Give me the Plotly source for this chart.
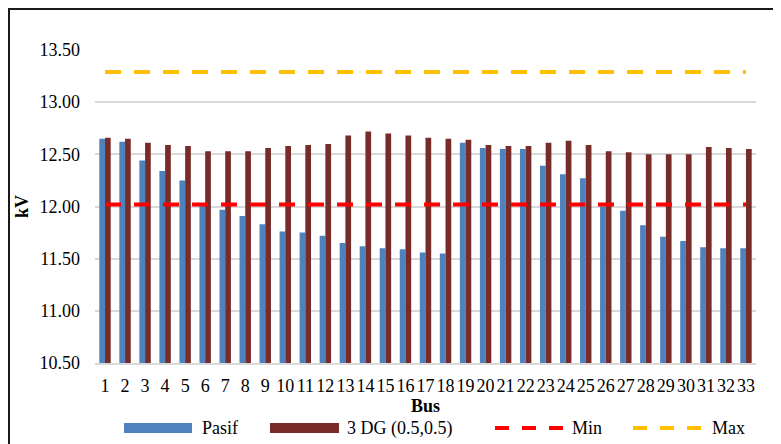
import plotly.graph_objects as go

buses = [str(i) for i in range(1, 34)]
pasif = [12.65, 12.62, 12.44, 12.34, 12.25, 12.01, 11.97, 11.91, 11.83, 11.76, 11.75,
         11.72, 11.65, 11.62, 11.60, 11.59, 11.56, 11.55, 12.61, 12.56, 12.55, 12.55,
         12.39, 12.31, 12.27, 12.00, 11.96, 11.82, 11.71, 11.67, 11.61, 11.60, 11.60]
dg3 = [12.66, 12.65, 12.61, 12.59, 12.58, 12.53, 12.53, 12.53, 12.56, 12.58, 12.59,
       12.60, 12.68, 12.72, 12.70, 12.68, 12.66, 12.65, 12.64, 12.59, 12.58, 12.58,
       12.61, 12.63, 12.59, 12.53, 12.52, 12.50, 12.50, 12.50, 12.57, 12.56, 12.55]
v_min = 12.02
v_max = 13.29
min_line = [v_min for _ in buses]
max_line = [v_max for _ in buses]
y_ticks = [10.5, 11.0, 11.5, 12.0, 12.5, 13.0, 13.5]

FONT = "Liberation Serif"
BLUE = "#4F81BD"
BROWN = "#772C2A"
RED = "#FF0000"
GOLD = "#FFC000"

fig = go.Figure()
fig.add_trace(go.Bar(x=buses, y=pasif, name="Pasif", marker_color=BLUE,
                     marker_line_width=0))
fig.add_trace(go.Bar(x=buses, y=dg3, name="3 DG (0.5,0.5)", marker_color=BROWN,
                     marker_line_width=0))
fig.add_trace(go.Scatter(x=buses, y=min_line, name="Min", mode="lines",
                         line=dict(color=RED, width=4, dash="16px,13px")))
fig.add_trace(go.Scatter(x=buses, y=max_line, name="Max", mode="lines",
                         line=dict(color=GOLD, width=4, dash="16px,13px")))

OFF = 8  # page body margin
W, H = 781 - OFF, 444 - OFF
L, R, T, B = 95 - OFF, 25, 50 - OFF, 81
pw, ph = W - L - R, H - T - B


def px_x(x):
    return (x - OFF - L) / pw


def px_y(y):
    return (H - B - (y - OFF)) / ph


shapes = [
    dict(type="rect", xref="paper", yref="paper", x0=px_x(OFF + 1), x1=px_x(820),
         y0=px_y(480), y1=px_y(OFF + 1), line=dict(color="#1a1a1a", width=2),
         fillcolor="rgba(0,0,0,0)", layer="above"),
]
annotations = []
legend_items = [
    ("Pasif", "bar", BLUE, 124, 192, 200),
    ("3 DG (0.5,0.5)", "bar", BROWN, 270, 339, 345),
    ("Min", "line", RED, 495, 565, 570),
    ("Max", "line", GOLD, 633, 703, 710),
]
ly = 428
for text, kind, color, sx0, sx1, tx in legend_items:
    if kind == "bar":
        shapes.append(dict(type="rect", xref="paper", yref="paper",
                           x0=px_x(sx0), x1=px_x(sx1), y0=px_y(ly + 5), y1=px_y(ly - 5),
                           fillcolor=color, line=dict(width=0)))
    else:
        shapes.append(dict(type="line", xref="paper", yref="paper",
                           x0=px_x(sx0), x1=px_x(sx1), y0=px_y(ly), y1=px_y(ly),
                           line=dict(color=color, width=4, dash="14px,13px")))
    annotations.append(dict(text=text, xref="paper", yref="paper", x=px_x(tx), y=px_y(ly),
                            xanchor="left", yanchor="middle", showarrow=False,
                            font=dict(family=FONT, size=18, color="#000")))

fig.update_layout(
    width=W, height=H,
    margin=dict(l=L, r=R, t=T, b=B, autoexpand=False),
    paper_bgcolor="white", plot_bgcolor="white",
    barmode="group", bargap=0.43, bargroupgap=0,
    showlegend=False,
    font=dict(family=FONT, size=18, color="#000"),
    shapes=shapes, annotations=annotations,
)
fig.update_xaxes(
    type="category", tickmode="linear", dtick=1,
    showgrid=False, showline=True, linecolor="#d9d9d9", linewidth=1.5,
    ticks="", ticklabelstandoff=6, tickangle=0,
    tickfont=dict(family=FONT, size=18, color="#000"),
    title=dict(text="<b>Bus</b>", font=dict(family=FONT, size=18, color="#000"), standoff=4),
)
fig.update_yaxes(
    range=[10.5, 13.5], tickvals=y_ticks, tickformat=".2f",
    showgrid=True, gridcolor="#d9d9d9", gridwidth=1.5, zeroline=False, showline=False,
    ticks="", ticklabelstandoff=14,
    tickfont=dict(family=FONT, size=18, color="#000"),
    title=dict(text="<b>kV</b>", font=dict(family=FONT, size=18, color="#000"), standoff=6),
)

fig.write_html("out.html")
